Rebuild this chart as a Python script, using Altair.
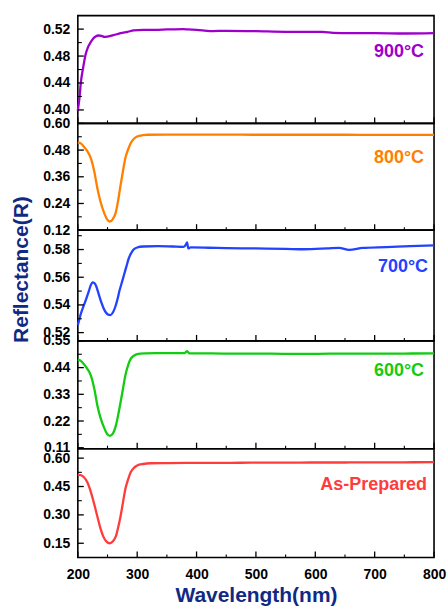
import altair as alt
import pandas as pd

# ---------------- data ----------------
wl_900 = [200, 203, 205, 209, 213, 217, 222, 226, 230, 235, 240, 245, 250, 260, 272, 284, 294, 310, 330, 350,
          378, 385, 400, 423, 450, 500, 550, 600, 612, 630, 660, 700, 750, 800]
r_900 = [0.399, 0.420, 0.440, 0.463, 0.482, 0.493, 0.501, 0.506, 0.509, 0.5105, 0.5098, 0.5085, 0.509, 0.511,
         0.514, 0.516, 0.518, 0.519, 0.519, 0.5195, 0.520, 0.5195, 0.519, 0.517, 0.5175, 0.517, 0.516, 0.516,
         0.516, 0.5145, 0.514, 0.514, 0.5135, 0.514]

wl_800 = [200, 205, 210, 216, 222, 228, 233, 238, 244, 249, 254, 259, 264, 268, 272, 276, 280, 285, 289, 295,
          300, 310, 317, 350, 400, 450, 500, 550, 600, 650, 700, 750, 800]
r_800 = [0.515, 0.510, 0.496, 0.475, 0.443, 0.380, 0.307, 0.250, 0.200, 0.170, 0.159, 0.170, 0.200, 0.255,
         0.322, 0.385, 0.443, 0.485, 0.511, 0.532, 0.541, 0.547, 0.549, 0.550, 0.550, 0.550, 0.549, 0.549,
         0.549, 0.549, 0.548, 0.548, 0.548]

wl_700 = [200, 205, 210, 215, 219, 222, 225, 228, 231, 235, 239, 243, 247, 251, 255, 259, 263, 267, 270, 274,
          278, 282, 286, 290, 294, 300, 310, 335, 360, 378, 382, 384, 386, 390, 420, 450, 500, 550, 580, 620,
          640, 657, 680, 720, 760, 800]
r_700 = [0.5254, 0.5335, 0.5396, 0.5455, 0.5506, 0.5545, 0.5563, 0.5558, 0.5535, 0.5480, 0.5425, 0.5380,
         0.5347, 0.5330, 0.5327, 0.5345, 0.5385, 0.5445, 0.5500, 0.5560, 0.5620, 0.5680, 0.5739, 0.5775,
         0.5800, 0.5815, 0.5822, 0.5825, 0.5822, 0.5820, 0.5835, 0.5852, 0.5808, 0.5815, 0.5813, 0.5810,
         0.5808, 0.5805, 0.5802, 0.5808, 0.5812, 0.5798, 0.5812, 0.5818, 0.5825, 0.5830]

wl_600 = [200, 205, 210, 216, 222, 228, 233, 238, 244, 249, 254, 259, 264, 268, 272, 276, 280, 285, 289, 295,
          300, 315, 330, 350, 380, 384, 388, 400, 450, 500, 550, 600, 650, 700, 750, 800]
r_600 = [0.473, 0.468, 0.455, 0.435, 0.407, 0.350, 0.283, 0.235, 0.194, 0.168, 0.159, 0.168, 0.200, 0.245,
         0.297, 0.352, 0.407, 0.452, 0.476, 0.490, 0.496, 0.499, 0.500, 0.500, 0.500, 0.508, 0.499, 0.499,
         0.498, 0.498, 0.497, 0.497, 0.498, 0.498, 0.498, 0.499]

wl_ap = [200, 205, 210, 216, 222, 227, 233, 238, 243, 248, 254, 259, 264, 268, 272, 276, 280, 285, 289, 295,
         300, 310, 322, 350, 400, 450, 500, 550, 600, 650, 700, 750, 800]
r_ap = [0.511, 0.510, 0.500, 0.472, 0.420, 0.364, 0.290, 0.230, 0.185, 0.160, 0.150, 0.160, 0.186, 0.235,
        0.293, 0.365, 0.436, 0.490, 0.525, 0.550, 0.561, 0.569, 0.573, 0.574, 0.575, 0.575, 0.576, 0.576,
        0.577, 0.577, 0.578, 0.578, 0.579]

labels = ["900°C", "800°C", "700°C", "600°C", "As-Prepared"]
colors = ["#9e00cc", "#ff8000", "#2342ff", "#12cc12", "#ff3c3c"]
y_domains = [[0.38, 0.54], [0.12, 0.60], [0.514, 0.594], [0.106, 0.55], [0.075, 0.65]]
y_major = [[0.40, 0.44, 0.48, 0.52],
           [0.12, 0.24, 0.36, 0.48, 0.60],
           [0.52, 0.54, 0.56, 0.58],
           [0.11, 0.22, 0.33, 0.44, 0.55],
           [0.15, 0.30, 0.45, 0.60]]
y_minor = [[0.42, 0.46, 0.50],
           [0.18, 0.30, 0.42, 0.54],
           [0.53, 0.55, 0.57, 0.59],
           [0.165, 0.275, 0.385, 0.495],
           [0.225, 0.375, 0.525]]
x_major = [200, 300, 400, 500, 600, 700, 800]
x_minor = [250, 350, 450, 550, 650, 750]

series = [(wl_900, r_900), (wl_800, r_800), (wl_700, r_700), (wl_600, r_600), (wl_ap, r_ap)]

# ---------------- layout / style ----------------
W = 357
heights = [108, 107, 111, 108, 109]
label_y = [36, 35, 37, 30, 36]
label_dx = [10, 10, 6, 10, 7]
NAVY = "#102a83"
FONT = "Liberation Sans"


def make_panel(i):
    wl, r = series[i]
    h = heights[i]
    last = i == len(series) - 1
    xs = alt.Scale(domain=[200, 800], nice=False, zero=False)
    ys = alt.Scale(domain=y_domains[i], nice=False, zero=False)

    if last:
        xaxis = alt.Axis(values=x_major, format="d", ticks=False, domain=False, grid=False,
                         labelFlush=False, labelPadding=10, title="Wavelength(nm)",
                         titleFontSize=21, titleFontWeight="bold", titleColor=NAVY, titlePadding=3)
    else:
        xaxis = None

    if i == 2:
        yaxis = alt.Axis(values=y_major[i], format=".2f", ticks=False, domain=False, grid=False,
                         labelFlush=False, labelPadding=8, title="Reflectance(R)",
                         titleFontSize=21, titleFontWeight="bold", titleColor=NAVY,
                         titleBaseline="alphabetic", titleX=-50, titleY=39)
    else:
        yaxis = alt.Axis(values=y_major[i], format=".2f", ticks=False, domain=False, grid=False,
                         labelFlush=False, labelPadding=8, title=None)

    line = alt.Chart(pd.DataFrame({"wl": wl, "r": r})).mark_line(
        color=colors[i], strokeWidth=2.3, interpolate="monotone"
    ).encode(
        x=alt.X("wl:Q", scale=xs, axis=xaxis),
        y=alt.Y("r:Q", scale=ys, axis=yaxis),
    )

    ymaj = alt.Chart(pd.DataFrame({"r": y_major[i]})).mark_rule(color="black", strokeWidth=1.3).encode(
        y=alt.Y("r:Q", scale=ys, axis=yaxis), x=alt.value(0), x2=alt.value(6))
    ymin = alt.Chart(pd.DataFrame({"r": y_minor[i]})).mark_rule(color="black", strokeWidth=1.1).encode(
        y=alt.Y("r:Q", scale=ys, axis=yaxis), x=alt.value(0), x2=alt.value(4))
    xmaj = alt.Chart(pd.DataFrame({"wl": x_major})).mark_rule(color="black", strokeWidth=1.3).encode(
        x=alt.X("wl:Q", scale=xs, axis=xaxis), y=alt.value(h), y2=alt.value(h - 6))
    xmin = alt.Chart(pd.DataFrame({"wl": x_minor})).mark_rule(color="black", strokeWidth=1.1).encode(
        x=alt.X("wl:Q", scale=xs, axis=xaxis), y=alt.value(h), y2=alt.value(h - 3))

    txt = alt.Chart(pd.DataFrame({"t": [labels[i]]})).mark_text(
        align="right", baseline="middle", fontSize=18, fontWeight="bold", color=colors[i], font=FONT
    ).encode(text="t:N", x=alt.value(W - label_dx[i]), y=alt.value(label_y[i]))

    return alt.layer(line, ymaj, ymin, xmaj, xmin, txt).properties(width=W, height=h)


chart = alt.vconcat(*[make_panel(i) for i in range(5)], spacing=0, bounds="flush").properties(
    padding={"left": 10, "top": 14, "right": 1, "bottom": 3},
    background="white",
).configure_view(
    stroke="black", strokeWidth=1.6
).configure_axis(
    labelFont=FONT, labelFontSize=14, labelFontWeight="bold", labelColor="black", titleFont=FONT
)

chart.save("out.html", embed_options={"renderer": "svg", "actions": False})
